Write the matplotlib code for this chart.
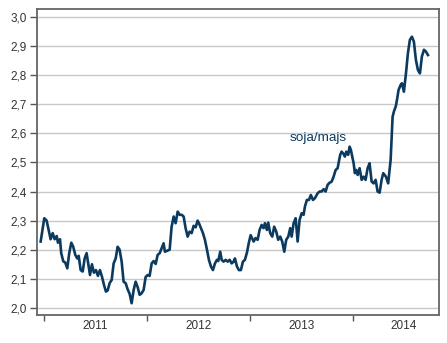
import numpy as np
import matplotlib.pyplot as plt

# soja/majs price ratio, weekly-ish observations (decimal years)
t = [2010.965, 2011.000, 2011.023, 2011.043, 2011.062, 2011.082, 2011.101, 2011.121,
     2011.133, 2011.153, 2011.165, 2011.185, 2011.204, 2011.224, 2011.243, 2011.263,
     2011.282, 2011.302, 2011.321, 2011.335, 2011.354, 2011.374, 2011.393, 2011.412,
     2011.432, 2011.445, 2011.464, 2011.483, 2011.503, 2011.522, 2011.542, 2011.561,
     2011.581, 2011.600, 2011.617, 2011.636, 2011.656, 2011.675, 2011.695, 2011.714,
     2011.733, 2011.753, 2011.772, 2011.792, 2011.811, 2011.831, 2011.850, 2011.870,
     2011.889, 2011.909, 2011.928, 2011.947, 2011.967, 2011.986, 2012.006, 2012.025,
     2012.045, 2012.064, 2012.084, 2012.103, 2012.123, 2012.142, 2012.161, 2012.174,
     2012.200, 2012.220, 2012.239, 2012.259, 2012.278, 2012.298, 2012.317, 2012.337,
     2012.356, 2012.375, 2012.395, 2012.414, 2012.434, 2012.453, 2012.473, 2012.492,
     2012.505, 2012.524, 2012.544, 2012.563, 2012.583, 2012.602, 2012.622, 2012.641,
     2012.661, 2012.680, 2012.693, 2012.712, 2012.726, 2012.745, 2012.765, 2012.784,
     2012.804, 2012.823, 2012.842, 2012.855, 2012.875, 2012.894, 2012.913, 2012.933,
     2012.952, 2012.972, 2012.991, 2013.008, 2013.037, 2013.056, 2013.076, 2013.095,
     2013.115, 2013.134, 2013.147, 2013.166, 2013.179, 2013.198, 2013.218, 2013.237,
     2013.257, 2013.276, 2013.296, 2013.315, 2013.335, 2013.354, 2013.374, 2013.393,
     2013.407, 2013.426, 2013.446, 2013.465, 2013.484, 2013.504, 2013.523, 2013.536,
     2013.555, 2013.575, 2013.594, 2013.614, 2013.633, 2013.660, 2013.679, 2013.698,
     2013.718, 2013.737, 2013.757, 2013.776, 2013.796, 2013.815, 2013.835, 2013.854,
     2013.867, 2013.879, 2013.893, 2013.912, 2013.925, 2013.938, 2013.957, 2013.971,
     2013.983, 2013.996, 2014.010, 2014.022, 2014.035, 2014.049, 2014.068, 2014.088,
     2014.107, 2014.126, 2014.146, 2014.165, 2014.185, 2014.204, 2014.224, 2014.243,
     2014.263, 2014.282, 2014.298, 2014.324, 2014.346, 2014.370, 2014.389, 2014.402,
     2014.421, 2014.434, 2014.447, 2014.467, 2014.480, 2014.499, 2014.519, 2014.538,
     2014.557, 2014.577, 2014.596, 2014.616, 2014.635, 2014.655, 2014.674, 2014.694,
     2014.713, 2014.733]

ratio = [2.228, 2.308, 2.300, 2.268, 2.236, 2.257, 2.236, 2.247,
         2.224, 2.236, 2.188, 2.160, 2.156, 2.136, 2.188, 2.224,
         2.210, 2.182, 2.170, 2.179, 2.130, 2.125, 2.170, 2.188,
         2.142, 2.113, 2.150, 2.121, 2.130, 2.110, 2.130, 2.108,
         2.079, 2.056, 2.060, 2.085, 2.096, 2.153, 2.170, 2.210,
         2.200, 2.159, 2.090, 2.085, 2.064, 2.048, 2.016, 2.062,
         2.090, 2.071, 2.045, 2.050, 2.062, 2.106, 2.113, 2.110,
         2.153, 2.161, 2.151, 2.182, 2.188, 2.205, 2.222, 2.193,
         2.197, 2.200, 2.279, 2.314, 2.291, 2.331, 2.320, 2.320,
         2.314, 2.274, 2.245, 2.262, 2.257, 2.282, 2.277, 2.300,
         2.291, 2.274, 2.257, 2.234, 2.200, 2.165, 2.142, 2.130,
         2.153, 2.165, 2.161, 2.193, 2.165, 2.159, 2.165, 2.159,
         2.165, 2.153, 2.159, 2.170, 2.142, 2.130, 2.130, 2.159,
         2.165, 2.190, 2.225, 2.250, 2.228, 2.240, 2.234, 2.268,
         2.285, 2.274, 2.291, 2.268, 2.293, 2.257, 2.245, 2.279,
         2.262, 2.234, 2.245, 2.228, 2.193, 2.234, 2.245, 2.274,
         2.245, 2.291, 2.308, 2.228, 2.302, 2.325, 2.320, 2.348,
         2.371, 2.371, 2.388, 2.371, 2.377, 2.394, 2.400, 2.400,
         2.408, 2.400, 2.423, 2.430, 2.434, 2.451, 2.474, 2.480,
         2.503, 2.526, 2.537, 2.529, 2.520, 2.537, 2.526, 2.554,
         2.543, 2.520, 2.497, 2.463, 2.474, 2.457, 2.480, 2.440,
         2.451, 2.440, 2.480, 2.497, 2.434, 2.428, 2.440, 2.400,
         2.396, 2.440, 2.463, 2.451, 2.428, 2.509, 2.657, 2.675,
         2.694, 2.720, 2.749, 2.766, 2.772, 2.743, 2.806, 2.875,
         2.921, 2.932, 2.915, 2.852, 2.818, 2.806, 2.864, 2.887,
         2.881, 2.869]

years = [2011, 2012, 2013, 2014]
yticks = [2.0, 2.1, 2.2, 2.3, 2.4, 2.5, 2.6, 2.7, 2.8, 2.9, 3.0]

navy = '#0b3a5e'
txt = '#333333'
plt.rcParams['font.family'] = ['Liberation Sans', 'DejaVu Sans']

fig = plt.figure(figsize=(4.47, 3.43), dpi=100)
ax = fig.add_axes([0.082, 0.082, 0.9, 0.892])

ax.plot(t, ratio, color=navy, lw=1.9, solid_joinstyle='round', zorder=3)
ax.text(2013.39, 2.574, 'soja/majs', color=navy, fontsize=9.7, ha='left', va='baseline')

ax.set_xlim(2010.926, 2014.84)
ax.set_ylim(1.976, 3.0275)

ax.set_yticks(yticks)
ax.set_yticklabels([f'{v:.1f}'.replace('.', ',') for v in yticks])
ax.yaxis.grid(True, color='#c8c8c8', lw=1)
ax.set_axisbelow(True)

# year boundaries as major ticks, year names centred between them
ax.set_xticks(years)
ax.set_xticklabels([])
ax.set_xticks([y + 0.5 for y in years], minor=True)
ax.set_xticklabels([str(y) for y in years], minor=True)
ax.tick_params(axis='x', which='major', direction='out', length=4.5, width=1, color='#555555')
ax.tick_params(axis='x', which='minor', length=0, pad=4, labelsize=8.5, labelcolor=txt)
ax.tick_params(axis='y', direction='out', length=5, width=1, color='#555555',
               labelsize=8.5, labelcolor=txt, pad=2)

for s in ax.spines.values():
    s.set_color('#666666')
    s.set_linewidth(1.3)

fig.savefig('out.png', dpi=100)
